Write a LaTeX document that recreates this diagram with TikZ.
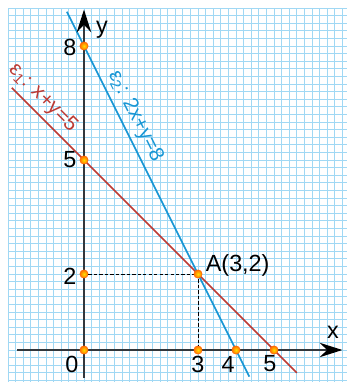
\documentclass[tikz,border=0pt]{standalone}
\usepackage{fontspec}
\setmainfont{Liberation Sans}
\usetikzlibrary{arrows.meta,positioning}
\definecolor{gridblue}{RGB}{160,216,244}
\definecolor{lineone}{RGB}{188,58,52}
\definecolor{linetwo}{RGB}{24,150,212}
\definecolor{axisgray}{RGB}{50,55,60}
\tikzstyle{axis} = [axisgray, line width=1.5pt, -{Stealth[length=6mm,width=3.8mm,inset=2mm,color=black]}]
\tikzstyle{graph} = [line width=1.2pt]
\tikzstyle{guide} = [black, line width=0.7pt, dash pattern=on 2.5pt off 1.6pt]
\tikzstyle{dot} = [circle, inner sep=0pt, minimum size=2.2mm, inner color=yellow!75!orange, outer color=orange!85!red, draw=orange!75!red, line width=0.3pt]
\tikzstyle{num} = [inner sep=1pt, font=\fontsize{17.5}{20}\selectfont]
\tikzstyle{eqlabel} = [sloped, above, font=\fontsize{15.5}{18}\selectfont]

\begin{document}
\begin{tikzpicture}
      \useasboundingbox (-2.21,-0.842) rectangle (6.921,9.21);
      % squared paper
      \draw[gridblue, line width=0.6pt, step=0.2] (-2,-0.842) grid (6.921,9);
      % end points of the two lines
      \coordinate (r1) at (-1.9,6.9);
      \coordinate (r2) at (5.6,-0.6);
      \coordinate (b1) at (-0.45,8.9);
      \coordinate (b2) at (4.35,-0.7);
      \draw[graph, lineone] (r1) -- (r2) node[eqlabel, pos=0.073] {ε\textsubscript{1}: x+y=5};
      \draw[graph, linetwo] (b1) -- (b2) node[eqlabel, pos=0.304] {ε\textsubscript{2}: 2x+y=8};
      % axes
      \coordinate (xs) at (-1.76,0);
      \coordinate (xe) at (6.8,0);
      \coordinate (ys) at (0,-0.74);
      \coordinate (ye) at (0,8.96);
      \draw[axis] (xs) -- (xe);
      \draw[axis] (ys) -- (ye);
      % points
      \node (p0)[dot] at (0,0) {};
      \node (p2)[dot] at (0,2) {};
      \node (p5)[dot] at (0,5) {};
      \node (p8)[dot] at (0,8) {};
      \node (q3)[dot] at (3,0) {};
      \node (q4)[dot] at (4,0) {};
      \node (q5)[dot] at (5,0) {};
      \draw[guide] (p2) -- (3,2) coordinate (a);
      \draw[guide] (a) -- (q3);
      \node (ptA)[dot] at (a) {};
      % labels
      \node (l0)[num] at (-0.32,-0.37) {0};
      \node (l2)[num] at (-0.37,1.93) {2};
      \node (l5)[num] at (-0.37,5) {5};
      \node (l8)[num] at (-0.37,7.95) {8};
      \node (m3)[num] at (3,-0.37) {3};
      \node (m4)[num] at (3.79,-0.37) {4};
      \node (m5)[num] at (4.89,-0.37) {5};
      \node (lx)[num] at (6.55,0.47) {x};
      \node (ly)[num] at (0.47,8.42) {y};
      \node (lA)[num, right=0.5mm of ptA, yshift=6.5pt] {A(3,2)};
    \end{tikzpicture}
\end{document}
